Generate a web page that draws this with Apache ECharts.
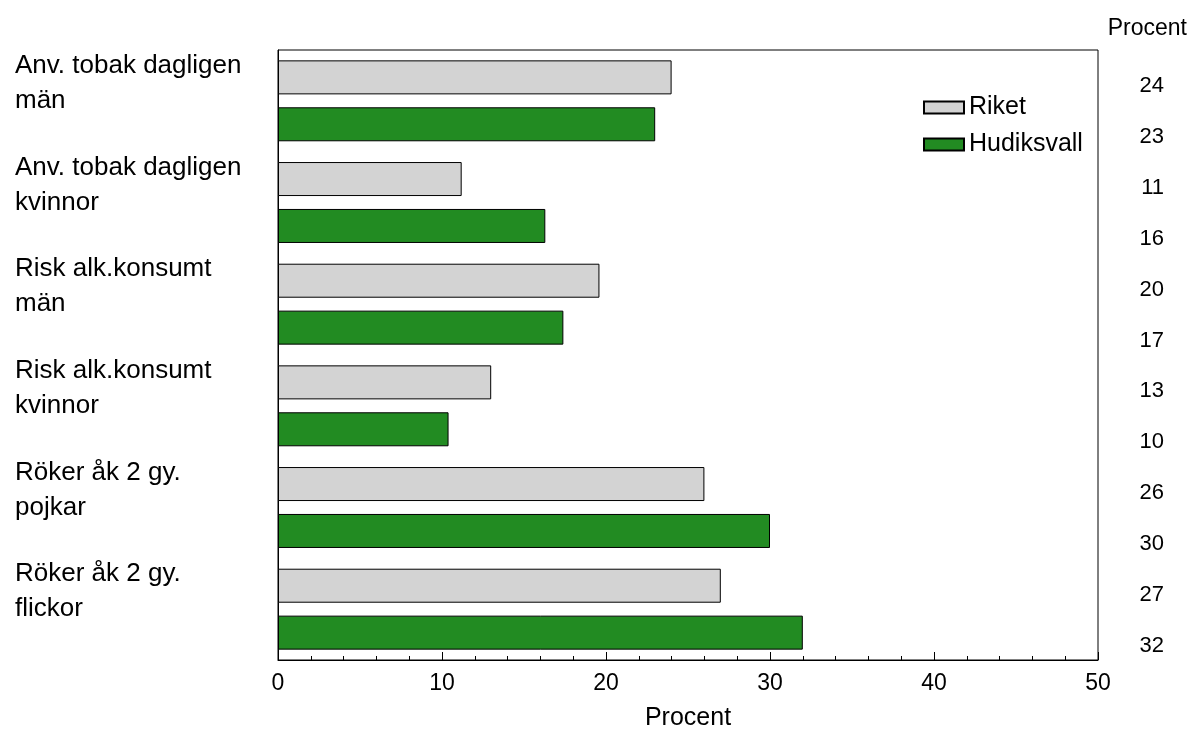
<!DOCTYPE html>
<html><head><meta charset="utf-8">
<script src="https://cdn.jsdelivr.net/npm/echarts@6/dist/echarts.min.js"></script>
<style>html,body{margin:0;padding:0;background:#fff}#c{width:1198px;height:731px}</style>
</head><body><div id="c"></div>
<script>
const categories = ["Anv. tobak dagligen\nmän","Anv. tobak dagligen\nkvinnor","Risk alk.konsumt\nmän","Risk alk.konsumt\nkvinnor","Röker åk 2 gy.\npojkar","Röker åk 2 gy.\nflickor"];
const riket = [24, 11.2, 19.6, 13, 26, 27];
const hudiksvall = [23, 16.3, 17.4, 10.4, 30, 32];
const rightLabels = ["24","23","11","16","20","17","13","10","26","30","27","32"];
const font = "Liberation Sans";
const chart = echarts.init(document.getElementById('c'));
chart.setOption({
  animation:false,
  textStyle:{fontFamily:font,color:'#000'},
  title:{text:'Procent',right:6,top:12,textStyle:{fontFamily:font,fontSize:23,fontWeight:'normal',color:'#000'}},
  grid:{left:278,right:100,top:50,bottom:71,outerBoundsMode:'none',containLabel:false,show:true,borderColor:'#000',borderWidth:1},
  legend:{orient:'vertical',left:918,top:90,itemWidth:40,itemHeight:12,itemGap:12,icon:'rect',
    textStyle:{fontSize:25,color:'#000',fontFamily:font},data:['Riket','Hudiksvall']},
  xAxis:{type:'value',min:0,max:50,interval:10,name:'Procent',nameLocation:'middle',nameGap:46,
    nameTextStyle:{fontSize:25,color:'#000'},
    axisLine:{show:true,lineStyle:{color:'#000'}},axisTick:{show:true,inside:true,length:8,lineStyle:{color:'#000'}},
    minorTick:{show:true,splitNumber:5,length:4,lineStyle:{color:'#000'}},
    splitLine:{show:false},axisLabel:{fontSize:23,color:'#000',margin:12}},
  yAxis:[{type:'category',inverse:true,data:categories,axisLine:{lineStyle:{color:'#000'}},axisTick:{show:false},
    axisLabel:{interval:0,fontSize:26,color:'#000',align:'left',margin:263,lineHeight:35,formatter:v=>v+'\n'}},
   {type:'category',inverse:true,position:'right',data:rightLabels,axisLine:{show:false},axisTick:{show:false},
    axisLabel:{interval:0,fontSize:22,color:'#000',align:'right',margin:66,verticalAlign:'top'}}],
  series:[
    {name:'Riket',type:'bar',data:riket,barWidth:34,barGap:'38%',itemStyle:{color:'#d3d3d3',borderColor:'#000',borderWidth:1}},
    {name:'Hudiksvall',type:'bar',data:hudiksvall,barWidth:34,itemStyle:{color:'#228b22',borderColor:'#000',borderWidth:1}}
  ]
});
</script></body></html>
